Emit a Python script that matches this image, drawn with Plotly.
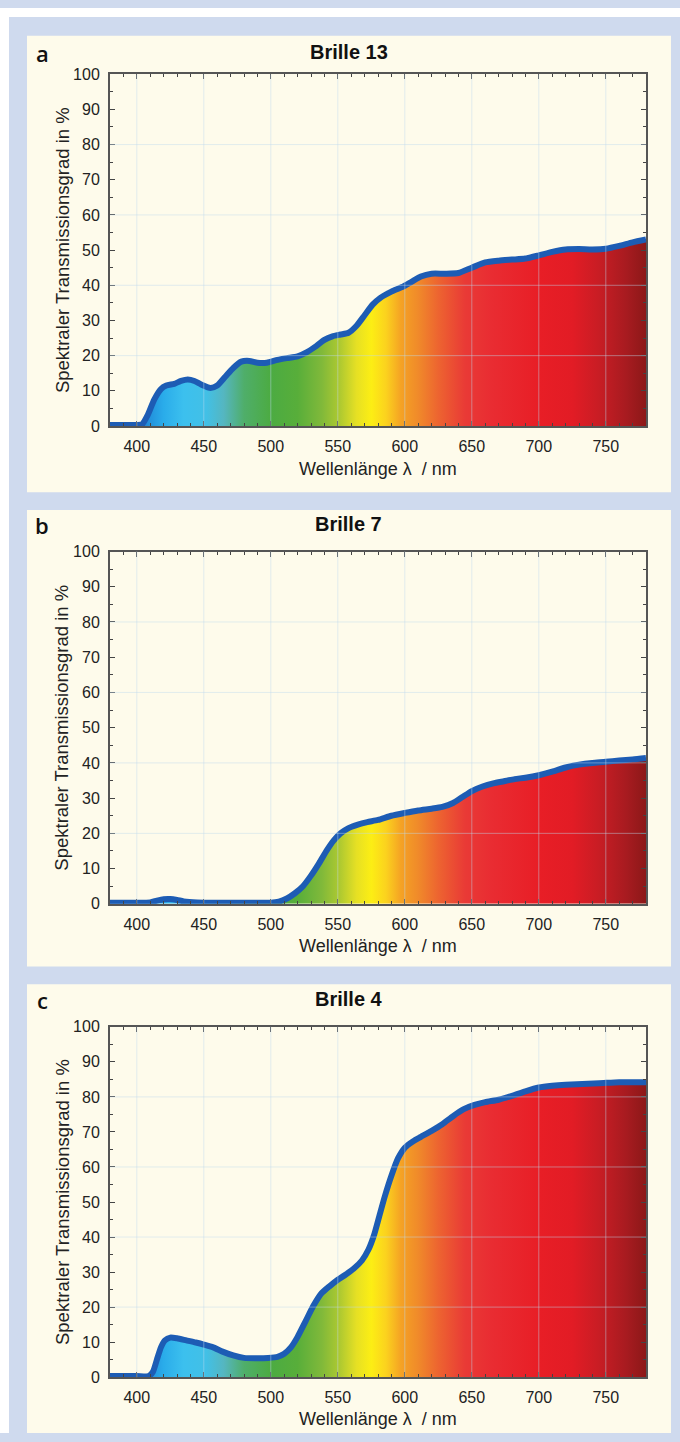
import plotly.graph_objects as go

# ---------------- data ----------------
titles = ["Brille 13", "Brille 7", "Brille 4"]
letters = ["a", "b", "c"]

wl_a = [380, 390, 400, 404, 408, 413, 418, 422, 428, 433, 438, 443, 448, 455, 460, 466, 472, 478,
        484, 490, 497, 505, 512, 520, 527, 533, 540, 546, 552, 558, 564, 570, 576, 582, 590, 598,
        605, 612, 620, 630, 640, 650, 660, 670, 680, 690, 700, 710, 720, 730, 740, 750, 760, 770, 780]
tr_a = [0.3, 0.3, 0.3, 0.5, 3, 7.5, 10.5, 11.5, 12, 12.8, 13.2, 12.8, 11.8, 10.8, 11.5, 14, 16.5, 18.3,
        18.5, 18, 18, 18.8, 19.3, 19.8, 21, 22.5, 24.5, 25.5, 26, 26.5, 28.5, 31.5, 34.5, 36.5, 38.2, 39.5,
        41, 42.5, 43.3, 43.3, 43.5, 45, 46.5, 47, 47.3, 47.6, 48.5, 49.5, 50.2, 50.3, 50.2, 50.4, 51.2, 52.2, 53]

wl_b = [380, 400, 410, 415, 420, 425, 430, 435, 445, 460, 480, 500, 506, 512, 518, 524, 530, 536, 542,
        547, 552, 558, 565, 572, 580, 590, 600, 610, 620, 628, 636, 643, 650, 658, 666, 674, 682, 690,
        700, 710, 720, 730, 740, 750, 760, 770, 780]
tr_b = [0.3, 0.3, 0.4, 0.9, 1.3, 1.35, 1.1, 0.7, 0.4, 0.3, 0.3, 0.3, 0.6, 1.5, 3, 5, 8, 11.5, 15.3,
        18, 20, 21.5, 22.5, 23.2, 23.8, 25, 25.8, 26.5, 27, 27.5, 28.6, 30.3, 32, 33.3, 34.2, 34.8, 35.4, 35.8,
        36.5, 37.5, 38.7, 39.5, 40, 40.3, 40.7, 41, 41.4]

wl_c = [380, 400, 409, 412, 415, 418, 421, 425, 430, 437, 444, 450, 457, 464, 472, 480, 490, 498, 505,
        510, 515, 520, 526, 532, 538, 544, 550, 556, 562, 568, 573, 577, 581, 585, 590, 595, 600, 606,
        612, 620, 628, 636, 644, 652, 660, 670, 680, 690, 700, 710, 720, 745, 760, 780]
tr_c = [0.3, 0.3, 0.3, 1.5, 5, 8.5, 10.5, 11.3, 11.1, 10.5, 9.9, 9.3, 8.5, 7.3, 6.2, 5.5, 5.4, 5.5, 5.8,
        6.7, 8.5, 11.5, 16, 20.5, 24, 26, 27.8, 29.3, 31, 33.3, 36.5, 40.5, 46, 51.5, 57.5, 62.5, 65.5, 67.3,
        68.6, 70.3, 72.2, 74.5, 76.5, 77.7, 78.5, 79.2, 80.3, 81.6, 82.7, 83.2, 83.5, 83.9, 84.2, 84.2]

series = [(wl_a, tr_a), (wl_b, tr_b), (wl_c, tr_c)]

x_tick_vals = [400, 450, 500, 550, 600, 650, 700, 750]
y_grid_vals = [20, 40, 60, 80]

# spectral colours (wavelength, colour)
spec_wl = [380, 405, 420, 435, 452, 465, 480, 500, 520, 538, 552, 564, 575, 586, 597, 610, 625,
           645, 665, 700, 725, 745, 765, 780]
spec_col = ["#1a62c2", "#1f86d6", "#2aacea", "#3cc0ee", "#42c0e6", "#55b6c0", "#4fae6a", "#4cab42",
            "#58ae3a", "#80b93a", "#b0ca30", "#e6e024", "#fcee14", "#fbd21e", "#f5a324", "#f08a2a",
            "#ed6430", "#e93a36", "#e92c32", "#e81e26", "#e21c25", "#c81d24", "#a81b20", "#8c1818"]
spec_scale = [[(w - 380) / 400.0, c] for w, c in zip(spec_wl, spec_col)]

# ---------------- layout geometry (pixels) ----------------
W, H = 680, 1442
def py(p):
    return 1 - p / H
def px(p):
    return p / W

plot_x = (110, 646)
plot_y = [(67, 423), (550, 906.5), (1031, 1385.5)]
panel_y = [(28, 490), (508, 970), (988, 1460)]
title_y = [45, 522, 1003]
xtitle_y = [467, 949, 1428]

BLUE_BG = "#cfdaee"
CREAM = "#fefbeb"
FONT = "Liberation Sans, Arial, sans-serif"

fig = go.Figure()
shapes = []
annotations = []

# white frame strips
shapes.append(dict(type="rect", xref="paper", yref="paper", x0=0, x1=1, y0=py(9), y1=1,
                   fillcolor="white", line=dict(width=0), layer="below"))
shapes.append(dict(type="rect", xref="paper", yref="paper", x0=0, x1=px(9), y0=0, y1=1,
                   fillcolor="white", line=dict(width=0), layer="below"))

for i in range(3):
    n = "" if i == 0 else str(i + 1)
    xa, ya = "x" + n, "y" + n
    wl, tr = series[i]
    fig.add_trace(go.Scatter(
        x=wl, y=tr, xaxis=xa, yaxis=ya, mode="lines",
        line=dict(color="#1d5cb4", width=6, shape="spline", smoothing=0.6),
        fill="tozeroy",
        fillgradient=dict(type="horizontal", colorscale=spec_scale, start=380, stop=780),
        showlegend=False, hoverinfo="skip"))

    axis_common = dict(
        showline=True, linecolor="#555555", linewidth=2, mirror="ticks",
        ticks="inside", tickcolor="#444444", ticklen=5, tickwidth=1,
        showgrid=False, zeroline=False,
        tickfont=dict(family=FONT, size=16, color="#222222"),
        ticklabelstandoff=5,
    )
    fig.update_layout(**{
        "xaxis" + n: dict(domain=[px(plot_x[0]), px(plot_x[1])], anchor=ya, range=[380, 780],
                          tickmode="array", tickvals=x_tick_vals,
                          minor=dict(dtick=10, tick0=380, ticks="inside", ticklen=3, tickcolor="#444444"),
                          **axis_common),
        "yaxis" + n: dict(domain=[py(plot_y[i][1]), py(plot_y[i][0])], anchor=xa, range=[0, 100],
                          dtick=10, tick0=0,
                          minor=dict(dtick=5, ticks="inside", ticklen=3, tickcolor="#444444"),
                          **axis_common),
    })

    # cream panel
    shapes.append(dict(type="rect", xref="paper", yref="paper", x0=px(27), x1=px(671),
                       y0=py(min(panel_y[i][1], H)), y1=py(panel_y[i][0]),
                       fillcolor=CREAM, line=dict(width=0), layer="below"))
    # grid lines drawn over the fill
    for xv in x_tick_vals:
        shapes.append(dict(type="line", xref=xa, yref=ya + " domain", x0=xv, x1=xv, y0=0, y1=1,
                           line=dict(color="rgba(190,218,238,0.45)", width=1), layer="above"))
    for yv in y_grid_vals:
        shapes.append(dict(type="line", xref=xa + " domain", yref=ya, x0=0, x1=1, y0=yv, y1=yv,
                           line=dict(color="rgba(190,218,238,0.45)", width=1), layer="above"))

    # titles
    annotations.append(dict(text="<b>" + titles[i] + "</b>", xref="paper", yref="paper",
                            x=px(349), y=py(title_y[i]), showarrow=False, xanchor="center", yanchor="middle",
                            font=dict(family=FONT, size=20, color="#111111")))
    annotations.append(dict(text=letters[i], xref="paper", yref="paper",
                            x=px(42), y=py(title_y[i] + 1), showarrow=False, xanchor="center", yanchor="middle",
                            font=dict(family="Open Sans", size=22, color="#111111", weight=600)))
    annotations.append(dict(text="Wellenlänge λ\u00a0 / nm", xref="paper", yref="paper",
                            x=px(378), y=py(xtitle_y[i]), showarrow=False, xanchor="center", yanchor="middle",
                            font=dict(family=FONT, size=18, color="#222222")))
    annotations.append(dict(text="Spektraler Transmissionsgrad in %", xref="paper", yref="paper",
                            x=px(62), y=py((plot_y[i][0] + plot_y[i][1]) / 2), showarrow=False,
                            textangle=-90, xanchor="center", yanchor="middle",
                            font=dict(family=FONT, size=18.5, color="#222222")))

fig.update_layout(
    width=W, height=H, margin=dict(l=0, r=0, t=0, b=0),
    paper_bgcolor=BLUE_BG, plot_bgcolor="#fffefa",
    shapes=shapes, annotations=annotations, showlegend=False,
)

fig.write_html(
    "out.html",
    config={"displayModeBar": False, "responsive": False},
    post_script=(
        "document.documentElement.style.margin='0';"
        "document.body.style.margin='0';"
        "var d=document.getElementsByClassName('plotly-graph-div')[0];"
        "d.style.position='fixed';d.style.top='0px';d.style.left='0px';"
    ),
)
